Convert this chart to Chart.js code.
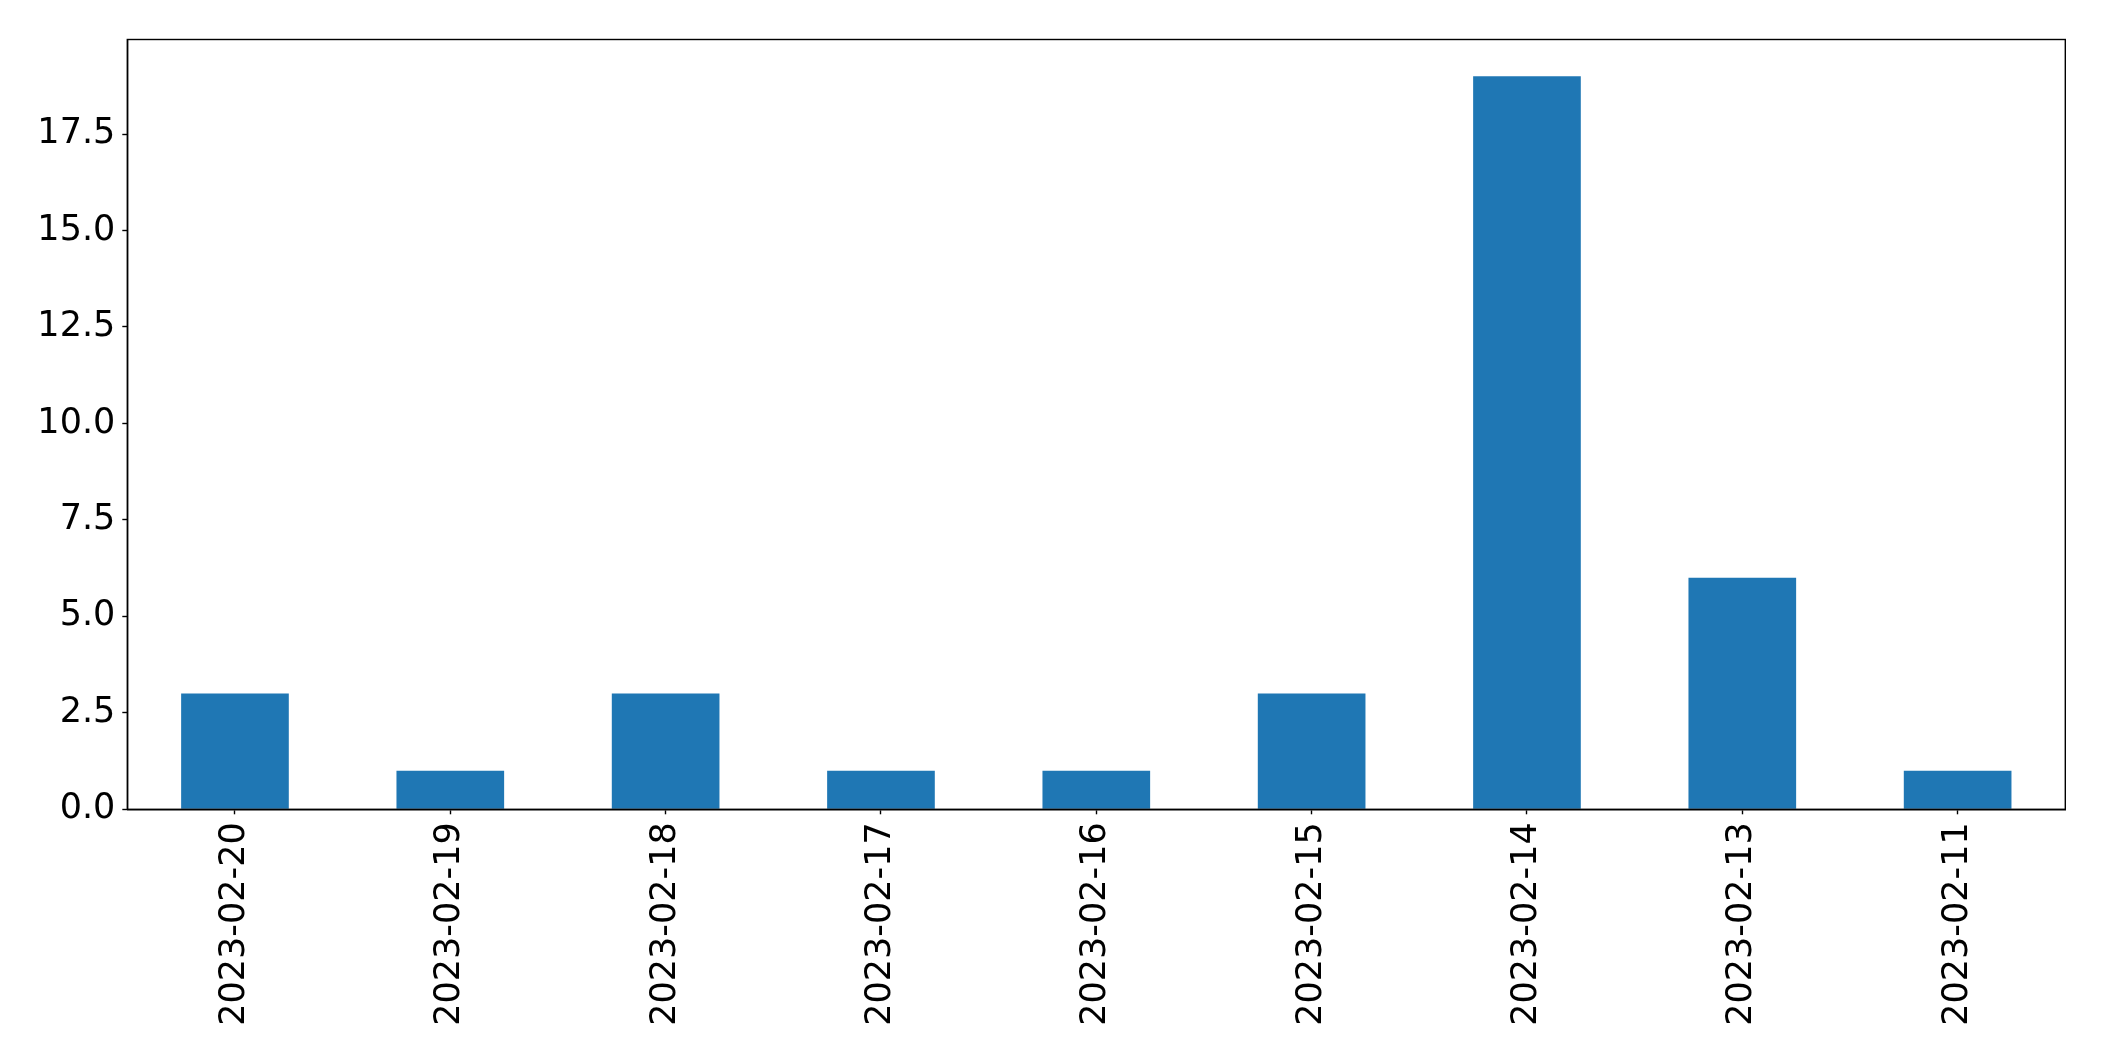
<!DOCTYPE html>
<html>
<head>
<meta charset="utf-8">
<script src="https://cdn.jsdelivr.net/npm/chart.js@4"></script>
<style>
html,body{margin:0;padding:0;background:#fff;}
#wrap{width:2104px;height:1061px;}
</style>
</head>
<body>
<div id="wrap"><canvas id="c" width="2104" height="1061"></canvas></div>
<script>
const categories = ["2023-02-20","2023-02-19","2023-02-18","2023-02-17","2023-02-16","2023-02-15","2023-02-14","2023-02-13","2023-02-11"];
const counts = [3, 1, 3, 1, 1, 3, 19, 6, 1];
const yTickValues = [0, 2.5, 5, 7.5, 10, 12.5, 15, 17.5];
const yMax = 19.95;

const framePlugin = {
  id: 'frame',
  afterDraw(chart) {
    const a = chart.chartArea, ctx = chart.ctx;
    ctx.save();
    ctx.strokeStyle = '#000';
    ctx.lineWidth = 1.4;
    ctx.strokeRect(a.left, a.top, a.right - a.left, a.bottom - a.top);
    ctx.restore();
  }
};

new Chart(document.getElementById('c'), {
  type: 'bar',
  data: {
    labels: categories,
    datasets: [{
      data: counts,
      backgroundColor: '#1f77b4',
      borderWidth: 0,
      categoryPercentage: 1.0,
      barPercentage: 0.5
    }]
  },
  options: {
    responsive: false,
    animation: false,
    devicePixelRatio: 1,
    layout: { padding: { top: 39.5, right: 38.7, left: 0, bottom: 0 } },
    plugins: { legend: { display: false }, tooltip: { enabled: false } },
    scales: {
      x: {
        offset: true,
        grid: { display: true, offset: false, drawOnChartArea: false, drawTicks: true, tickLength: 5, tickColor: '#000', tickWidth: 1.4 },
        border: { display: true, color: '#000', width: 1.4 },
        ticks: {
          color: '#000',
          font: { family: 'DejaVu Sans', size: 35 },
          minRotation: 90, maxRotation: 90,
          padding: 8,
          autoSkip: false
        },
        afterFit(scale) { scale.height = 1061 - 809.3; }
      },
      y: {
        min: 0,
        max: yMax,
        grid: { display: true, drawOnChartArea: false, drawTicks: true, tickLength: 5, tickColor: '#000', tickWidth: 1.4 },
        border: { display: true, color: '#000', width: 1.4 },
        ticks: {
          color: '#000',
          font: { family: 'DejaVu Sans', size: 35 },
          padding: 7,
          callback: (v) => Number(v).toFixed(1)
        },
        afterBuildTicks(scale) {
          scale.ticks = yTickValues.map(v => ({ value: v }));
        },
        afterFit(scale) { scale.width = 127.3; }
      }
    }
  },
  plugins: [framePlugin]
});
</script>
</body>
</html>
